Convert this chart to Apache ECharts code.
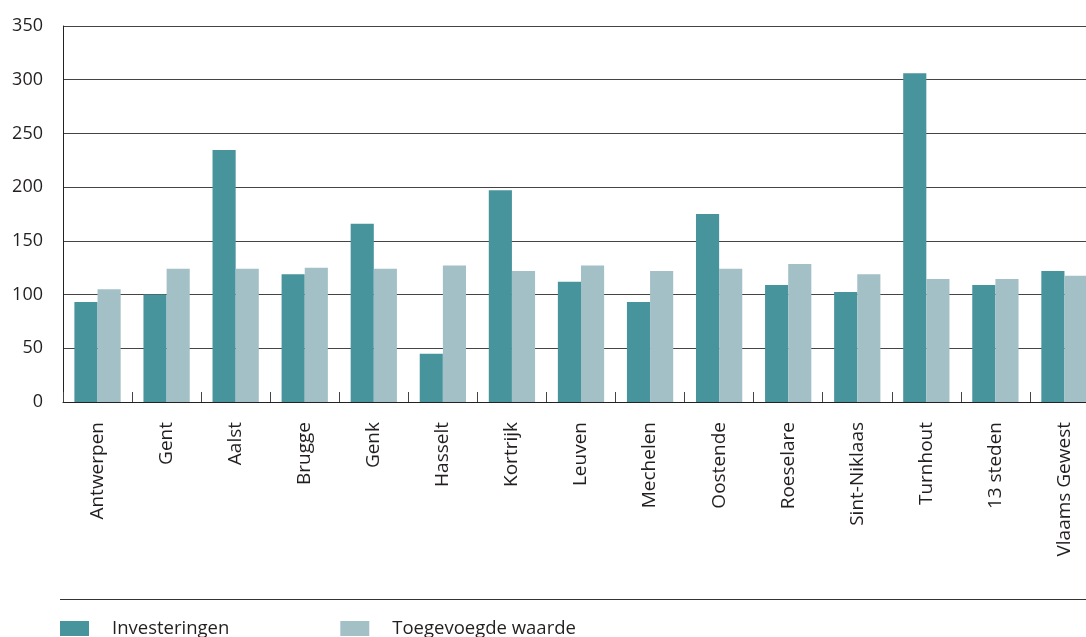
<!DOCTYPE html>
<html>
<head>
<meta charset="utf-8">
<script src="https://cdn.jsdelivr.net/npm/echarts@6/dist/echarts.min.js"></script>
<style>
html,body{margin:0;padding:0;background:#fff;overflow:hidden;width:1086px;height:637px;}
#wrap{width:1086px;height:637px;overflow:hidden;position:relative;}
#chart{width:1100px;height:637px;}
</style>
</head>
<body>
<div id="wrap"><div id="chart"></div></div>
<script>
const categories = ['Antwerpen','Gent','Aalst','Brugge','Genk','Hasselt','Kortrijk','Leuven','Mechelen','Oostende','Roeselare','Sint-Niklaas','Turnhout','13 steden','Vlaams Gewest'];
const investeringen = [93, 100, 234.5, 119, 166, 45, 197, 112, 93, 175, 109, 102.5, 306, 109, 122];
const toegevoegdeWaarde = [105, 124, 124, 125, 124, 127, 122, 127, 122, 124, 128.5, 119, 114.5, 114.5, 117.5];
const yTicks = {min: 0, max: 350, interval: 50};
const seriesNames = ['Investeringen', 'Toegevoegde waarde'];

const FONT = '"Open Sans", "Noto Sans", sans-serif';
const chart = echarts.init(document.getElementById('chart'), null, {renderer: 'canvas', width: 1100, height: 637});
chart.setOption({
  animation: false,
  backgroundColor: '#ffffff',
  grid: {left: 63, top: 26, width: 1036, height: 376, containLabel: false},
  legend: {
    left: 60, top: 619, padding: 0,
    itemWidth: 29, itemHeight: 15, itemGap: 111,
    icon: 'rect',
    textStyle: {fontFamily: FONT, fontSize: 18.5, color: '#231f20', lineHeight: 15, padding: [0,0,0,18]},
    data: seriesNames
  },
  graphic: [{
    type: 'line', silent: true,
    shape: {x1: 60, y1: 599.5, x2: 1100, y2: 599.5},
    style: {stroke: '#333', lineWidth: 1}
  }],
  xAxis: {
    type: 'category',
    data: categories,
    axisLine: {show: true, lineStyle: {color: '#222', width: 1}},
    axisTick: {show: true, inside: true, length: 10, lineStyle: {color: '#444', width: 1}},
    axisLabel: {rotate: 90, interval: 0, margin: 20, fontFamily: FONT, fontSize: 19, color: '#231f20'},
    splitLine: {show: false}
  },
  yAxis: {
    type: 'value',
    min: yTicks.min, max: yTicks.max, interval: yTicks.interval,
    axisLine: {show: true, lineStyle: {color: '#222', width: 1}},
    axisTick: {show: false},
    axisLabel: {margin: 20, fontFamily: FONT, fontSize: 18, color: '#231f20'},
    splitLine: {show: true, lineStyle: {color: '#444', width: 1}}
  },
  series: [
    {name: seriesNames[0], type: 'bar', data: investeringen, barGap: '0%', barCategoryGap: '33%',
     itemStyle: {color: '#47949d'}},
    {name: seriesNames[1], type: 'bar', data: toegevoegdeWaarde, barGap: '0%', barCategoryGap: '33%',
     itemStyle: {color: '#a3c0c7'}}
  ]
});
</script>
</body>
</html>
